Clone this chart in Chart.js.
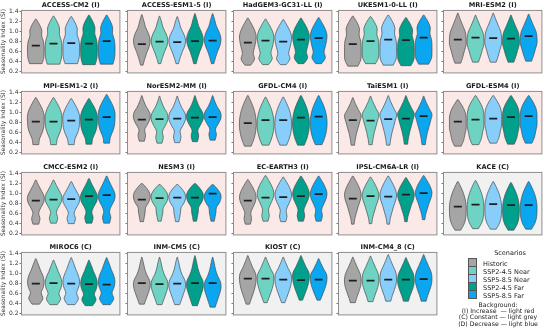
<!DOCTYPE html>
<html>
<head>
<meta charset="utf-8">
<script src="https://cdn.jsdelivr.net/npm/chart.js@4.4.0/dist/chart.umd.min.js"></script>
<style>
  body { margin: 0; background: #fff; font-family: "DejaVu Sans", sans-serif; }
  #wrap { position: relative; width: 550px; height: 331px; overflow: hidden; }
  .panel { position: absolute; }
  #legend { position: absolute; left: 459px; top: 249px; width: 90px; font-size: 6.5px; color: #222; }
  .lg-title { text-align: center; margin-left: 12px; height: 9px; }
  .lg-row { height: 8px; line-height: 8px; white-space: nowrap; }
  .lg-sw { display: inline-block; width: 7px; height: 7px; border: 0.8px solid #555; vertical-align: -1.5px; margin: 0 6px 0 9px; }
  .bg-note { position: absolute; left: 448px; top: 302px; width: 100px; text-align: center; font-size: 6.2px; line-height: 6.2px; color: #222; }
</style>
</head>
<body>
<div id="wrap"></div>
<script>
// Modèles (titres des panneaux) et tendance (I / C)
const models = ['ACCESS-CM2', 'ACCESS-ESM1-5', 'HadGEM3-GC31-LL', 'UKESM1-0-LL', 'MRI-ESM2',
  'MPI-ESM1-2', 'NorESM2-MM', 'GFDL-CM4', 'TaiESM1', 'GFDL-ESM4',
  'CMCC-ESM2', 'NESM3', 'EC-EARTH3', 'IPSL-CM6A-LR', 'KACE',
  'MIROC6', 'INM-CM5', 'KIOST', 'INM-CM4_8'];
const trend = ['I', 'I', 'I', 'I', 'I', 'I', 'I', 'I', 'I', 'I',
  'I', 'I', 'I', 'I', 'C', 'C', 'C', 'C', 'C'];
const scenarios = ['Historic', 'SSP2-4.5 Near', 'SSP5-8.5 Near', 'SSP2-4.5 Far', 'SSP5-8.5 Far'];
const yTicks = [0.2, 0.4, 0.6, 0.8, 1.0, 1.2, 1.4];

// Médianes par scénario
const siMedian = [
  [0.72, 0.76, 0.77, 0.76, 0.81], [0.75, 0.80, 0.79, 0.81, 0.82], [0.78, 0.82, 0.80, 0.84, 0.87],
  [0.75, 0.81, 0.84, 0.83, 0.88], [0.84, 0.88, 0.87, 0.86, 0.91], [0.82, 0.82, 0.84, 0.86, 0.91],
  [0.86, 0.87, 0.88, 0.90, 0.91], [0.79, 0.85, 0.85, 0.90, 0.92], [0.85, 0.84, 0.87, 0.88, 0.93],
  [0.82, 0.86, 0.88, 0.91, 0.93], [0.86, 0.88, 0.89, 0.95, 0.97], [0.88, 0.91, 0.92, 0.92, 1.00],
  [0.86, 0.92, 0.93, 0.95, 0.99], [0.90, 0.95, 0.94, 0.98, 1.01], [0.74, 0.78, 0.79, 0.77, 0.77],
  [0.80, 0.81, 0.80, 0.79, 0.78], [0.81, 0.79, 0.80, 0.81, 0.81], [0.90, 0.90, 0.88, 0.87, 0.88],
  [0.86, 0.86, 0.88, 0.88, 0.89]
];
// Valeurs min (bas du violon)
const siMin = [
  [0.36, 0.35, 0.36, 0.34, 0.35], [0.33, 0.36, 0.36, 0.36, 0.36], [0.33, 0.34, 0.34, 0.36, 0.36],
  [0.31, 0.36, 0.33, 0.32, 0.35], [0.37, 0.39, 0.39, 0.39, 0.41], [0.36, 0.36, 0.36, 0.37, 0.39],
  [0.43, 0.39, 0.40, 0.42, 0.45], [0.33, 0.35, 0.35, 0.35, 0.36], [0.35, 0.36, 0.35, 0.37, 0.36],
  [0.33, 0.36, 0.39, 0.37, 0.39], [0.39, 0.41, 0.40, 0.41, 0.41], [0.44, 0.45, 0.44, 0.45, 0.45],
  [0.39, 0.45, 0.44, 0.45, 0.45], [0.39, 0.40, 0.39, 0.44, 0.48], [0.27, 0.30, 0.29, 0.27, 0.29],
  [0.39, 0.38, 0.38, 0.36, 0.38], [0.39, 0.38, 0.38, 0.36, 0.33], [0.39, 0.42, 0.42, 0.47, 0.47],
  [0.42, 0.44, 0.45, 0.45, 0.45]
];
// Valeurs max (haut du violon)
const siMax = [
  [1.25, 1.31, 1.30, 1.33, 1.33], [1.34, 1.31, 1.30, 1.36, 1.36], [1.27, 1.25, 1.24, 1.27, 1.28],
  [1.31, 1.30, 1.33, 1.28, 1.33], [1.37, 1.33, 1.37, 1.33, 1.35], [1.30, 1.30, 1.28, 1.28, 1.36],
  [1.34, 1.33, 1.33, 1.34, 1.34], [1.34, 1.31, 1.31, 1.34, 1.34], [1.30, 1.33, 1.34, 1.34, 1.33],
  [1.26, 1.34, 1.34, 1.34, 1.34], [1.27, 1.27, 1.24, 1.30, 1.35], [1.20, 1.18, 1.18, 1.20, 1.18],
  [1.28, 1.36, 1.33, 1.35, 1.35], [1.35, 1.33, 1.35, 1.32, 1.36], [1.24, 1.26, 1.24, 1.22, 1.24],
  [1.30, 1.27, 1.32, 1.27, 1.32], [1.33, 1.33, 1.33, 1.36, 1.33], [1.36, 1.33, 1.33, 1.36, 1.30],
  [1.33, 1.35, 1.38, 1.32, 1.38]
];
// Profil de densité (largeur relative, du bas vers le haut) par modèle
const siShape = [
  [0.75, 0.95, 1.00, 1.00, 0.92, 0.70, 0.72, 0.45, 0.05],
  [0.15, 0.35, 0.60, 0.90, 1.00, 0.80, 0.45, 0.25, 0.03],
  [0.35, 0.80, 0.65, 0.80, 0.95, 1.00, 0.80, 0.45, 0.05],
  [0.60, 0.95, 1.00, 1.00, 0.95, 0.75, 0.80, 0.50, 0.05],
  [0.35, 0.60, 0.80, 1.00, 1.00, 0.90, 0.60, 0.30, 0.03],
  [0.35, 0.45, 0.75, 0.95, 1.00, 1.00, 0.80, 0.45, 0.05],
  [0.30, 0.45, 0.35, 0.70, 1.00, 0.95, 0.55, 0.25, 0.03],
  [0.40, 0.70, 0.90, 1.00, 1.00, 0.90, 0.70, 0.40, 0.05],
  [0.20, 0.30, 0.45, 0.65, 0.85, 1.00, 0.65, 0.30, 0.03],
  [0.40, 0.70, 0.85, 1.00, 1.00, 1.00, 0.85, 0.50, 0.05],
  [0.35, 0.50, 0.35, 0.60, 0.95, 1.00, 0.70, 0.35, 0.05],
  [0.20, 0.30, 0.40, 0.45, 0.80, 1.00, 0.95, 0.60, 0.10],
  [0.30, 0.45, 0.35, 0.60, 0.90, 1.00, 0.80, 0.45, 0.05],
  [0.15, 0.25, 0.45, 0.65, 0.90, 1.00, 0.80, 0.45, 0.05],
  [0.35, 0.75, 0.95, 1.00, 1.00, 0.90, 0.70, 0.40, 0.05],
  [0.45, 0.85, 0.65, 0.90, 1.00, 0.85, 0.55, 0.30, 0.03],
  [0.30, 0.55, 0.80, 1.00, 0.95, 0.60, 0.35, 0.20, 0.02],
  [0.20, 0.45, 0.70, 0.90, 1.00, 0.95, 0.60, 0.30, 0.03],
  [0.30, 0.50, 0.75, 0.95, 1.00, 0.90, 0.60, 0.30, 0.03]
];

const colors = ['#a5a5a5', '#6fd3c3', '#87cefa', '#00a08c', '#0aa6f0'];
const bgColors = { I: '#fbe9e7', C: '#f1f1f1', D: '#e6eef8' };

// Mise en page de la grille
const colLeft = [22, 128, 234, 339, 444];
const rowTop = [11, 92, 173, 253];
const plotW = 102, plotH = 66, axisW = 22, titleH = 11;

// Catmull-Rom -> courbes de Bézier
function smoothPath(ctx, pts, moveFirst) {
    if (moveFirst) ctx.moveTo(pts[0][0], pts[0][1]); else ctx.lineTo(pts[0][0], pts[0][1]);
    for (let i = 0; i < pts.length - 1; i++) {
        const p0 = pts[Math.max(i - 1, 0)], p1 = pts[i], p2 = pts[i + 1], p3 = pts[Math.min(i + 2, pts.length - 1)];
        ctx.bezierCurveTo(p1[0] + (p2[0] - p0[0]) / 6, p1[1] + (p2[1] - p0[1]) / 6,
            p2[0] - (p3[0] - p1[0]) / 6, p2[1] - (p3[1] - p1[1]) / 6, p2[0], p2[1]);
    }
}

// Plugin: fond, violons et cadre
const panelPlugin = {
    id: 'panel',
    beforeDraw(chart) {
        const a = chart.chartArea, ctx = chart.ctx;
        ctx.save();
        ctx.fillStyle = bgColors[chart.options.plugins.panel.trend];
        ctx.fillRect(a.left, a.top, a.right - a.left, a.bottom - a.top);
        ctx.restore();
    },
    beforeDatasetsDraw(chart) {
        const p = chart.options.plugins.panel.index;
        const xs = chart.scales.x, ys = chart.scales.y, ctx = chart.ctx;
        const shape = siShape[p];
        scenarios.forEach((s, i) => {
            const cx = xs.getPixelForValue(i);
            const half = xs.getPixelForValue(i + 0.47) - cx;
            const lo = siMin[p][i], hi = siMax[p][i];
            const right = shape.map((w, k) => [cx + w * half, ys.getPixelForValue(lo + (hi - lo) * k / (shape.length - 1))]);
            const left = right.map(q => [2 * cx - q[0], q[1]]).reverse();
            ctx.save();
            ctx.beginPath();
            smoothPath(ctx, right, true);
            smoothPath(ctx, left, false);
            ctx.closePath();
            ctx.fillStyle = colors[i];
            ctx.fill();
            ctx.lineWidth = 0.7;
            ctx.strokeStyle = '#4a4a4a';
            ctx.stroke();
            ctx.restore();
        });
    },
    afterDraw(chart) {
        const a = chart.chartArea, ctx = chart.ctx;
        ctx.save();
        ctx.strokeStyle = '#8c8c8c';
        ctx.lineWidth = 1;
        ctx.strokeRect(a.left - 0.5, a.top - 0.5, a.right - a.left + 1, a.bottom - a.top + 1);
        ctx.restore();
    }
};

const wrap = document.getElementById('wrap');
models.forEach((name, p) => {
    const col = p % 5, row = Math.floor(p / 5);
    const div = document.createElement('div');
    div.className = 'panel';
    div.style.left = (colLeft[col] - axisW) + 'px';
    div.style.top = (rowTop[row] - titleH) + 'px';
    const canvas = document.createElement('canvas');
    canvas.width = axisW + plotW + 1;
    canvas.height = titleH + plotH + 1;
    div.appendChild(canvas);
    wrap.appendChild(div);

    new Chart(canvas.getContext('2d'), {
        type: 'scatter',
        data: {
            datasets: [{
                data: siMedian[p].map((m, i) => ({ x: i, y: m })),
                pointStyle: 'line',
                pointRadius: 4,
                borderColor: '#1e1e1e',
                borderWidth: 1.6,
                showLine: false
            }]
        },
        options: {
            responsive: false,
            animation: false,
            events: [],
            layout: { padding: { top: 0, right: 1, bottom: 1, left: 0 } },
            plugins: {
                legend: { display: false },
                tooltip: { enabled: false },
                title: {
                    display: true,
                    fullSize: false,
                    text: name + ' (' + trend[p] + ')',
                    color: '#1a1a1a',
                    font: { family: 'DejaVu Sans', size: 6.6, weight: 'bold' },
                    padding: { top: 1, bottom: 2 }
                },
                panel: { index: p, trend: trend[p] }
            },
            scales: {
                x: { type: 'linear', display: false, min: -0.78, max: 4.72 },
                y: {
                    min: 0.185, max: 1.415,
                    afterBuildTicks: s => { s.ticks = yTicks.map(v => ({ value: v })); },
                    afterFit: s => { s.width = axisW; },
                    border: { display: false },
                    grid: { drawOnChartArea: false, drawTicks: true, tickLength: 2.5, color: '#777' },
                    ticks: {
                        display: col === 0,
                        padding: 1,
                        color: '#333',
                        font: { family: 'DejaVu Sans', size: 6 },
                        callback: v => v.toFixed(1)
                    },
                    title: {
                        display: col === 0,
                        text: 'Seasonality Index (SI)',
                        color: '#333',
                        padding: 0,
                        font: { family: 'DejaVu Sans', size: 6 }
                    }
                }
            }
        },
        plugins: [panelPlugin]
    });
});

// Légende
const legend = document.createElement('div');
legend.id = 'legend';
let html = '<div class="lg-title">Scenarios</div>';
scenarios.forEach((s, i) => {
    html += `<div class="lg-row"><span class="lg-sw" style="background:${colors[i]}"></span>${s}</div>`;
});
legend.innerHTML = html;
wrap.appendChild(legend);

const note = document.createElement('div');
note.className = 'bg-note';
note.innerHTML = 'Background:<br>(I) Increase &nbsp;— light red<br>(C) Constant — light grey<br>(D) Decrease — light blue';
wrap.appendChild(note);
</script>
</body>
</html>
